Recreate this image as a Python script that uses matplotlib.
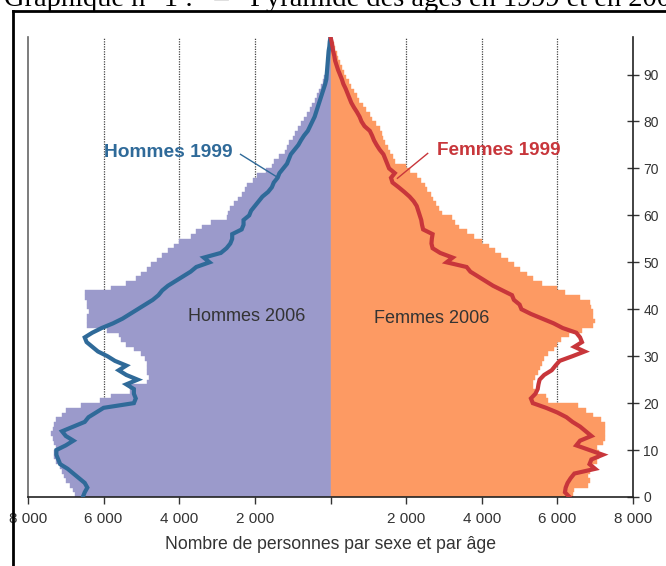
import numpy as np
import matplotlib
matplotlib.use('Agg')
import matplotlib.pyplot as plt
from matplotlib.lines import Line2D

# ages 0..98, values in persons
ages = np.arange(0, 99)

hommes_2006 = [6750, 6800, 6900, 7000, 7050, 7100, 7150, 7250, 7300, 7300,
               7250, 7300, 7350, 7400, 7350, 7300, 7250, 7100, 7000, 6600,
               6100, 5800, 5300, 5300, 4850, 4800, 4850, 4850, 4850, 4900,
               5000, 5200, 5400, 5550, 5600, 5900, 6450, 6450, 6450, 6400,
               6450, 6450, 6500, 6500, 5800, 5400, 5150, 5000, 4850, 4750,
               4600, 4450, 4300, 4150, 4000, 3700, 3550, 3400, 3150, 2750,
               2700, 2650, 2550, 2450, 2350, 2250, 2200, 2050, 1950, 1700,
               1550, 1500, 1350, 1200, 1150, 1100, 1000, 950, 850, 780,
               700, 620, 550, 480, 420, 370, 300, 250, 200, 160,
               130, 100, 80, 60, 50, 40, 30, 20, 0]

femmes_2006 = [6400, 6450, 6800, 6850, 6800, 6850, 6950, 7050, 7100, 7100,
               7050, 7200, 7250, 7250, 7250, 7250, 7150, 6950, 6750, 6550,
               5750, 5700, 5400, 5350, 5350, 5400, 5500, 5550, 5600, 5650,
               5750, 5900, 6000, 6100, 6300, 6650, 6950, 7000, 6950, 6950,
               6900, 6850, 6600, 6200, 6000, 5600, 5350, 5200, 5000, 4850,
               4700, 4500, 4350, 4200, 4000, 3800, 3600, 3400, 3300, 3200,
               2950, 2880, 2800, 2720, 2650, 2550, 2490, 2400, 2300, 2100,
               2000, 1700, 1640, 1580, 1520, 1450, 1400, 1350, 1300, 1200,
               1100, 1050, 950, 850, 750, 690, 620, 550, 480, 420,
               360, 300, 240, 200, 160, 120, 80, 50, 0]

hommes_1999 = [6550, 6500, 6430, 6500, 6650, 6800, 6950, 7150, 7200, 7250,
               7250, 7000, 6800, 7000, 7100, 6800, 6500, 6400, 6200, 6000,
               5200, 5150, 5200, 5200, 5400, 5100, 5400, 5600, 5400, 5700,
               5900, 6150, 6300, 6450, 6500, 6300, 6050, 5750, 5500, 5300,
               5100, 4900, 4700, 4550, 4450, 4300, 4100, 3900, 3700, 3550,
               3200, 3350, 2900, 2750, 2650, 2600, 2600, 2350, 2300, 2300,
               2150, 2100, 2000, 1900, 1800, 1650, 1550, 1500, 1400, 1350,
               1250, 1150, 1100, 1050, 950, 850, 780, 700, 600, 540,
               480, 420, 380, 340, 300, 260, 220, 180, 140, 110,
               100, 90, 80, 70, 60, 50, 30, 20, 0]

femmes_1999 = [6320, 6200, 6220, 6270, 6350, 6450, 7000, 6850, 6900, 7200,
               6850, 6500, 6600, 6900, 6750, 6600, 6400, 6240, 6000, 5700,
               5350, 5300, 5420, 5480, 5500, 5530, 5650, 5850, 5950, 6060,
               6400, 6720, 6450, 6650, 6600, 6500, 6140, 5900, 5600, 5300,
               5050, 5000, 4850, 4800, 4550, 4300, 4100, 3900, 3700, 3600,
               3070, 3230, 2900, 2700, 2670, 2680, 2700, 2450, 2420, 2400,
               2360, 2320, 2280, 2200, 2090, 1950, 1800, 1640, 1600, 1700,
               1550, 1500, 1450, 1400, 1300, 1220, 1150, 1100, 1040, 900,
               820, 770, 700, 620, 550, 500, 450, 400, 340, 300,
               250, 200, 160, 120, 100, 70, 50, 30, 0]

xticks = [-8000, -6000, -4000, -2000, 0, 2000, 4000, 6000, 8000]
xticklabels = ['8 000', '6 000', '4 000', '2 000', '', '2 000', '4 000', '6 000', '8 000']
yticks = [0, 10, 20, 30, 40, 50, 60, 70, 80, 90]

col_h06 = '#9b9acb'
col_f06 = '#fd9a63'
col_h99 = '#2f6a99'
col_f99 = '#c8363b'
txt = '#333333'

plt.rcParams['font.family'] = ['Liberation Sans', 'DejaVu Sans']

fig = plt.figure(figsize=(6.66, 5.66), dpi=100)
ax = fig.add_axes([28 / 666, 1 - 497 / 566, 605 / 666, 460 / 566])

# dotted gridlines behind the bars
ax.vlines([-6000, -4000, -2000, 2000, 4000, 6000], 0, 98, colors='#444444',
          linestyles=(0, (1, 1)), linewidth=0.9, zorder=0)

ax.barh(ages, -np.array(hommes_2006), height=1, align='edge', color=col_h06,
        edgecolor=col_h06, linewidth=0.3, zorder=1)
ax.barh(ages, femmes_2006, height=1, align='edge', color=col_f06,
        edgecolor=col_f06, linewidth=0.3, zorder=1)

ax.plot(-np.array(hommes_1999), ages, color=col_h99, linewidth=3, zorder=3,
        solid_joinstyle='miter')
ax.plot(femmes_1999, ages, color=col_f99, linewidth=3, zorder=3,
        solid_joinstyle='miter')

ax.set_xlim(-8000, 8000)
ax.set_ylim(0, 98)
ax.set_xticks(xticks)
ax.set_xticklabels(xticklabels)
ax.set_yticks(yticks)
ax.yaxis.tick_right()
ax.tick_params(axis='x', direction='out', length=5, width=1, colors='#333333',
               labelsize=11, pad=6)
ax.tick_params(axis='y', direction='inout', length=9, width=1, colors='#333333',
               labelsize=10, pad=3)
ax.spines['top'].set_visible(False)
ax.spines['left'].set_color('#666666')
ax.spines['left'].set_linewidth(1.2)
ax.spines['right'].set_color('#222222')
ax.spines['right'].set_linewidth(1.2)
ax.spines['bottom'].set_color('#222222')
ax.spines['bottom'].set_linewidth(1.2)

ax.set_xlabel('Nombre de personnes par sexe et par âge', fontsize=12.7,
              color=txt, labelpad=7)

ax.text(-2220, 38.5, 'Hommes 2006', fontsize=13, color=txt,
        ha='center', va='center', zorder=4)
ax.text(2670, 38.0, 'Femmes 2006', fontsize=13, color=txt,
        ha='center', va='center', zorder=4)

ax.text(-4290, 73.4, 'Hommes 1999', fontsize=13.8, color=col_h99,
        fontweight='bold', ha='center', va='center', zorder=4)
ax.plot([-2380, -1380], [73.0, 68.0], color=col_h99, linewidth=1, zorder=4)
ax.text(4440, 73.8, 'Femmes 1999', fontsize=13.6, color=col_f99,
        fontweight='bold', ha='center', va='center', zorder=4)
ax.plot([2570, 1770], [73.2, 67.9], color=col_f99, linewidth=1, zorder=4)

# page frame and cut-off title of the original document
fig.add_artist(Line2D([13 / 666, 1.0], [1 - 11 / 566, 1 - 11 / 566],
                      color='black', linewidth=2))
fig.add_artist(Line2D([13 / 666, 13 / 666], [0, 1 - 11 / 566],
                      color='black', linewidth=2))
fig.text(4 / 666, 1 - 6 / 566,
         'Graphique n° 1 :   –   Pyramide des âges en 1999 et en 2006',
         fontsize=20.5, family='Liberation Serif', ha='left', va='baseline')

fig.savefig('out.png', dpi=100)
